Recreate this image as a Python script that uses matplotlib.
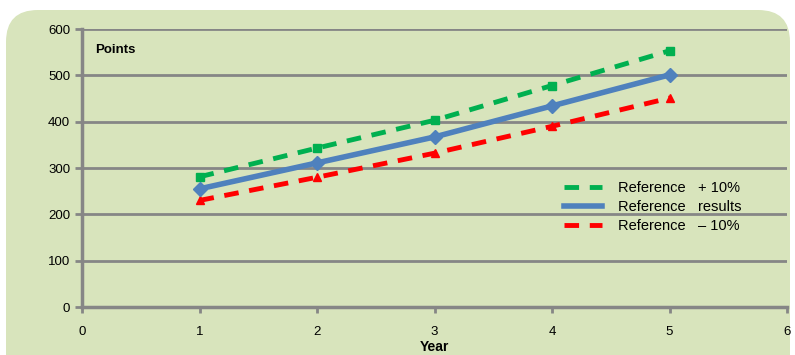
import matplotlib.pyplot as plt
from matplotlib.patches import FancyBboxPatch

years = [1, 2, 3, 4, 5]
ref_plus = [281, 343, 403, 478, 553]
ref_results = [255, 311, 367, 434, 501]
ref_minus = [230, 280, 332, 390, 451]

bg = '#d8e4bc'
grid = '#868686'

plt.rcParams['font.family'] = ['Liberation Sans', 'DejaVu Sans']

fig = plt.figure(figsize=(7.95, 3.55), dpi=100)
fig.patch.set_facecolor('white')
panel = FancyBboxPatch((6 / 795, -0.2), 784 / 795, 1.2 - 10 / 355,
                       boxstyle='round,pad=0,rounding_size=0.04',
                       transform=fig.transFigure, facecolor=bg, edgecolor='none',
                       mutation_aspect=795 / 355, zorder=-5)
fig.patches.append(panel)

ax = fig.add_axes([82 / 795, 48 / 355, 705 / 795, 278 / 355])
ax.set_zorder(1)
ax.patch.set_alpha(0)

ax.plot(years, ref_plus, color='#00b050', lw=3.5, ls=(0, (3, 2.2)),
        marker='s', ms=6, label='Reference   + 10%', zorder=3)
ax.plot(years, ref_results, color='#4f81bd', lw=4,
        marker='D', ms=7, label='Reference   results', zorder=4)
ax.plot(years, ref_minus, color='#ff0000', lw=3.5, ls=(0, (3, 2.2)),
        marker='^', ms=6, label='Reference   \u2013 10%', zorder=3)

ax.set_xlim(0, 6)
ax.set_ylim(0, 600)
ax.set_xticks(range(0, 7))
ax.set_yticks(range(0, 601, 100))
ax.yaxis.grid(True, color=grid, lw=2)
ax.set_axisbelow(True)
for s in ['top', 'right']:
    ax.spines[s].set_visible(False)
for s in ['left', 'bottom']:
    ax.spines[s].set_color(grid)
    ax.spines[s].set_linewidth(2.5)
ax.tick_params(axis='both', colors=grid, labelcolor='black', labelsize=9.5,
               width=2, length=5)
ax.tick_params(axis='x', length=4, pad=10)

ax.set_xlabel('Year', fontsize=10, fontweight='bold', labelpad=1)
ax.text(0.11, 555, 'Points', fontsize=9.5, fontweight='bold', va='center')

leg = ax.legend(loc='upper left', bbox_to_anchor=(0.665, 0.50), frameon=False,
                fontsize=10.5, handlelength=2.6, labelspacing=0.35,
                handletextpad=1.1)
for h in leg.legend_handles:
    h.set_marker('')

fig.savefig('out.png', dpi=100, facecolor=fig.get_facecolor())
